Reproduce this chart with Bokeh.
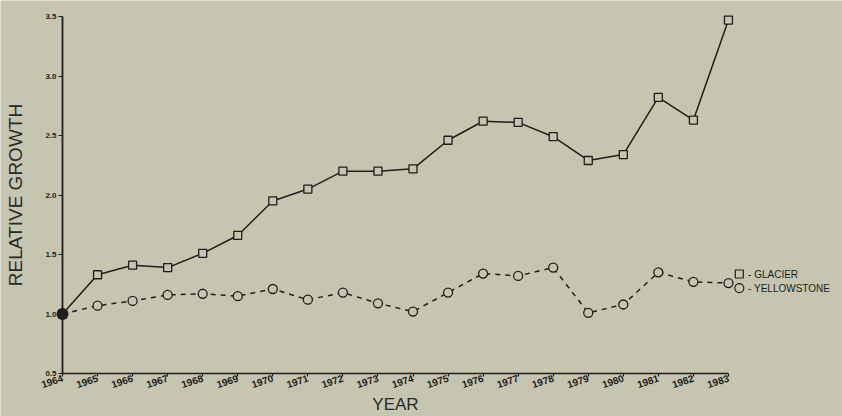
from bokeh.plotting import figure
from bokeh.models import Range1d, FixedTicker, PrintfTickFormatter, ColumnDataSource
from bokeh.core.properties import value
from bokeh.embed import file_html
from bokeh.resources import INLINE

# Relative growth by year, 1964 = 1.0
years = list(range(1964, 1984))
glacier = [1.00, 1.33, 1.41, 1.39, 1.51, 1.66, 1.95, 2.05, 2.20, 2.20,
           2.22, 2.46, 2.62, 2.61, 2.49, 2.29, 2.34, 2.82, 2.63, 3.47]
yellowstone = [1.00, 1.07, 1.11, 1.16, 1.17, 1.15, 1.21, 1.12, 1.18, 1.09,
               1.02, 1.18, 1.34, 1.32, 1.39, 1.01, 1.08, 1.35, 1.27, 1.26]
y_ticks = [0.5, 1.0, 1.5, 2.0, 2.5, 3.0, 3.5]
series_names = ["GLACIER", "YELLOWSTONE"]

BG = "#c6c5b0"
INK = "#1e1e1c"

W, H = 842, 416
px_per_year = 35.05
px_per_unit = 119.0
left_px, bottom_px, top_px = 62, 43, 16

x_range = Range1d(years[0] - left_px / px_per_year,
                  years[0] + (W - left_px) / px_per_year)
y_range = Range1d(y_ticks[0] - bottom_px / px_per_unit,
                  y_ticks[-1] + top_px / px_per_unit)

p = figure(width=W, height=H, output_backend="svg", toolbar_location=None,
           x_range=x_range, y_range=y_range, min_border=0)
p.background_fill_color = BG
p.border_fill_color = BG
p.outline_line_color = None
p.grid.visible = False

# axes pinned at the data origin so the whole canvas is the frame
xa = p.xaxis[0]
xa.fixed_location = y_ticks[0]
xa.bounds = (years[0], years[-1])
xa.ticker = FixedTicker(ticks=years)
xa.major_label_orientation = 0.32
xa.major_tick_in = 0
xa.major_tick_out = 3
xa.minor_tick_line_color = None
xa.major_label_standoff = 1
xa.major_label_text_font = "Liberation Sans"
xa.major_label_text_font_size = "10px"
xa.major_label_text_font_style = "bold"
xa.major_label_text_color = INK
xa.axis_line_color = INK
xa.axis_line_width = 1.6
xa.major_tick_line_color = INK
xa.major_tick_line_width = 1.2
xa.axis_label = "YEAR"
xa.axis_label_text_font = "Liberation Sans"
xa.axis_label_text_font_size = "17px"
xa.axis_label_text_font_style = "normal"
xa.axis_label_text_color = "#2a2a28"
xa.axis_label_standoff = 0

ya = p.yaxis[0]
ya.fixed_location = years[0]
ya.bounds = (y_ticks[0], y_ticks[-1])
ya.ticker = FixedTicker(ticks=y_ticks)
ya.formatter = PrintfTickFormatter(format="%.1f")
ya.major_tick_in = 0
ya.major_tick_out = 4
ya.minor_tick_line_color = None
ya.major_label_standoff = 2
ya.major_label_text_font = "Liberation Sans"
ya.major_label_text_font_size = "8px"
ya.major_label_text_font_style = "bold"
ya.major_label_text_color = INK
ya.axis_line_color = INK
ya.axis_line_width = 1.8
ya.major_tick_line_color = INK
ya.major_tick_line_width = 1.2
ya.axis_label = "RELATIVE GROWTH"
ya.axis_label_text_font = "Liberation Sans"
ya.axis_label_text_font_size = "19px"
ya.axis_label_text_font_style = "normal"
ya.axis_label_text_color = "#2a2a28"
ya.axis_label_standoff = 16

src = ColumnDataSource(dict(year=years, glacier=glacier, yellowstone=yellowstone))

# Yellowstone: dashed line with open circles
p.line("year", "yellowstone", source=src, line_color=INK, line_width=1.5,
       line_dash="5 5")
p.scatter("year", "yellowstone", source=src, marker="circle", size=9,
          fill_color=BG, line_color=INK, line_width=1.3)

# Glacier: solid line with open squares
p.line("year", "glacier", source=src, line_color=INK, line_width=1.5)
p.scatter("year", "glacier", source=src, marker="square", size=8,
          fill_color=BG, line_color=INK, line_width=1.3)

# shared starting point
p.scatter([years[0]], [glacier[0]], marker="circle", size=11,
          fill_color=INK, line_color=INK)

# key beside the last year
kx = years[-1] + 0.31
ky = [1.336, 1.218]
p.scatter([kx], [ky[0]], marker="square", size=8, fill_color=BG,
          line_color=INK, line_width=1.2)
p.scatter([kx], [ky[1]], marker="circle", size=9, fill_color=BG,
          line_color=INK, line_width=1.2)
p.text([kx + 0.25] * 2, ky, text=["- " + n for n in series_names],
       text_font=value("Liberation Sans"), text_font_size="10px",
       text_color=INK, text_align="left", text_baseline="middle")

open("out.html", "w").write(file_html(p, INLINE))
